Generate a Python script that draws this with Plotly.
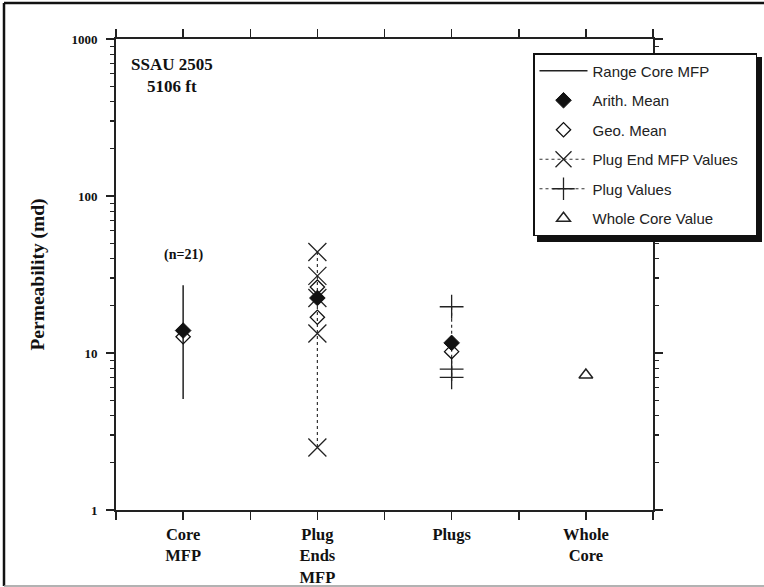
import plotly.graph_objects as go

# ---- data ----
categories = ["Core<br>MFP", "Plug<br>Ends<br>MFP", "Plugs", "Whole<br>Core"]
cat_pos = [1, 3, 5, 7]

core_range = [5.1, 27.0]
plug_end_values = [44.0, 31.0, 22.4, 13.3, 2.5]
plug_values = [19.7, 7.9, 7.0]
whole_core_value = [7.24]

arith_x = [1, 3, 5]
arith_mean = [13.9, 22.4, 11.6]
geo_x = [1, 3, 3, 5]
geo_mean = [12.7, 26.3, 16.9, 10.2]

y_major = [1, 10, 100, 1000]
y_minor = [m * d for d in (1, 10, 100) for m in range(2, 10)]

# ---- geometry helpers ----
L, R, T, B = 116, 111, 39, 77
W, H = 764, 587
PW, PH = W - L - R, H - T - B


def px(x):
    return (x - L) / PW


def py(y):
    return (H - B - y) / PH


serif = "Liberation Serif"
sans = "Liberation Sans"
NB = "\u00a0"

fig = go.Figure()

fig.add_trace(go.Scatter(
    x=[cat_pos[0]] * 2, y=core_range, mode="lines", name="Range Core MFP",
    line=dict(color="#222", width=1.5), legendrank=1, legendgroup="a"))

fig.add_trace(go.Scatter(
    x=[cat_pos[1]] * len(plug_end_values), y=plug_end_values, mode="lines+markers",
    name="Plug End MFP Values" + NB * 3, legendrank=4, legendgroup="d",
    line=dict(color="#333", width=1.2, dash="dot"),
    marker=dict(symbol="x-thin-open", size=18, color="#222",
                line=dict(color="#222", width=1.3))))

fig.add_trace(go.Scatter(
    x=[cat_pos[2]] * len(plug_values), y=plug_values, mode="lines+markers",
    name="Plug Values", legendrank=5, legendgroup="e",
    line=dict(color="#333", width=1.2, dash="dot"),
    marker=dict(symbol="cross-thin-open", size=17, color="#222",
                line=dict(color="#222", width=1.3))))

fig.add_trace(go.Scatter(
    x=geo_x, y=geo_mean, mode="markers", name="Geo. Mean",
    legendrank=3, legendgroup="c",
    marker=dict(symbol="diamond-open", size=11, color="#111",
                line=dict(color="#111", width=1.3))))

fig.add_trace(go.Scatter(
    x=arith_x, y=arith_mean, mode="markers", name="Arith. Mean",
    legendrank=2, legendgroup="b",
    marker=dict(symbol="diamond", size=12, color="#111",
                line=dict(color="#111", width=1))))

fig.add_trace(go.Scatter(
    x=[cat_pos[3]], y=whole_core_value, mode="markers", name="Whole Core Value",
    legendrank=6, legendgroup="f",
    marker=dict(symbol="triangle-up-open", size=12, color="#222",
                line=dict(color="#222", width=1.5))))

x_ticks = list(range(0, 9))
x_text = [""] * 9
for p, c in zip(cat_pos, categories):
    x_text[p] = f"<b>{c}</b>"

shapes = [
    # legend shadow
    dict(type="rect", xref="paper", yref="paper",
         x0=px(537), x1=px(762), y0=py(242), y1=py(57),
         fillcolor="#111", line=dict(width=0), layer="above"),
    # outer frame
    dict(type="line", xref="paper", yref="paper", x0=px(4), x1=px(4),
         y0=py(586), y1=py(3), line=dict(color="#111", width=2.5)),
    dict(type="line", xref="paper", yref="paper", x0=px(4), x1=px(764),
         y0=py(3), y1=py(3), line=dict(color="#111", width=2.5)),
    dict(type="line", xref="paper", yref="paper", x0=px(4), x1=px(764),
         y0=py(586), y1=py(586), line=dict(color="#999", width=1.5)),
]

annotations = [
    dict(x=px(172), y=py(75), xref="paper", yref="paper",
         xanchor="center", yanchor="middle",
         text="<b>SSAU 2505<br>5106 ft</b>", showarrow=False,
         font=dict(family=serif, size=17, color="#111"), align="center"),
    dict(x=cat_pos[0], y=py(255), xref="x", yref="paper",
         xanchor="center", yanchor="middle",
         text="<b>(n=21)</b>", showarrow=False,
         font=dict(family=serif, size=14, color="#111")),
]

fig.update_layout(
    width=W, height=H, autosize=False,
    margin=dict(l=L, r=R, t=T, b=B, pad=0, autoexpand=False),
    paper_bgcolor="white", plot_bgcolor="white",
    showlegend=True,
    legend=dict(x=px(533), y=py(53), xanchor="left", yanchor="top",
                bgcolor="white", bordercolor="#111", borderwidth=1.5,
                font=dict(family=sans, size=15, color="#222"),
                traceorder="grouped", tracegroupgap=7, itemwidth=48),
    shapes=shapes, annotations=annotations,
    xaxis=dict(range=[0, 8], tickmode="array", tickvals=x_ticks, ticktext=x_text,
               ticks="outside", ticklen=8, tickwidth=1.5, tickcolor="#222",
               showline=True, linecolor="#222", linewidth=2, mirror="ticks",
               showgrid=False, zeroline=False, ticklabelstandoff=0,
               automargin=False,
               tickfont=dict(family=serif, size=16.5, color="#111")),
    yaxis=dict(type="log", range=[0, 3], tickmode="array", tickvals=y_major,
               ticktext=["<b>1</b>", "<b>10</b>", "<b>100</b>", "<b>1000</b>"],
               ticks="outside", ticklen=8, tickwidth=1.5, tickcolor="#222",
               showline=True, linecolor="#222", linewidth=2, mirror="ticks",
               showgrid=False, zeroline=False, ticklabelstandoff=6,
               automargin=False,
               minor=dict(tickmode="array", tickvals=y_minor, ticks="outside",
                          ticklen=4, tickwidth=1.2, tickcolor="#222", showgrid=False),
               tickfont=dict(family=serif, size=13, color="#111"),
               title=dict(text="<b>Permeability (md)</b>", standoff=22,
                          font=dict(family=serif, size=19.5, color="#111"))),
)

fig.write_html(
    "out.html",
    config={"responsive": False, "displayModeBar": False, "staticPlot": True},
    post_script="document.body.style.margin='0';document.body.style.overflow='hidden';",
)
